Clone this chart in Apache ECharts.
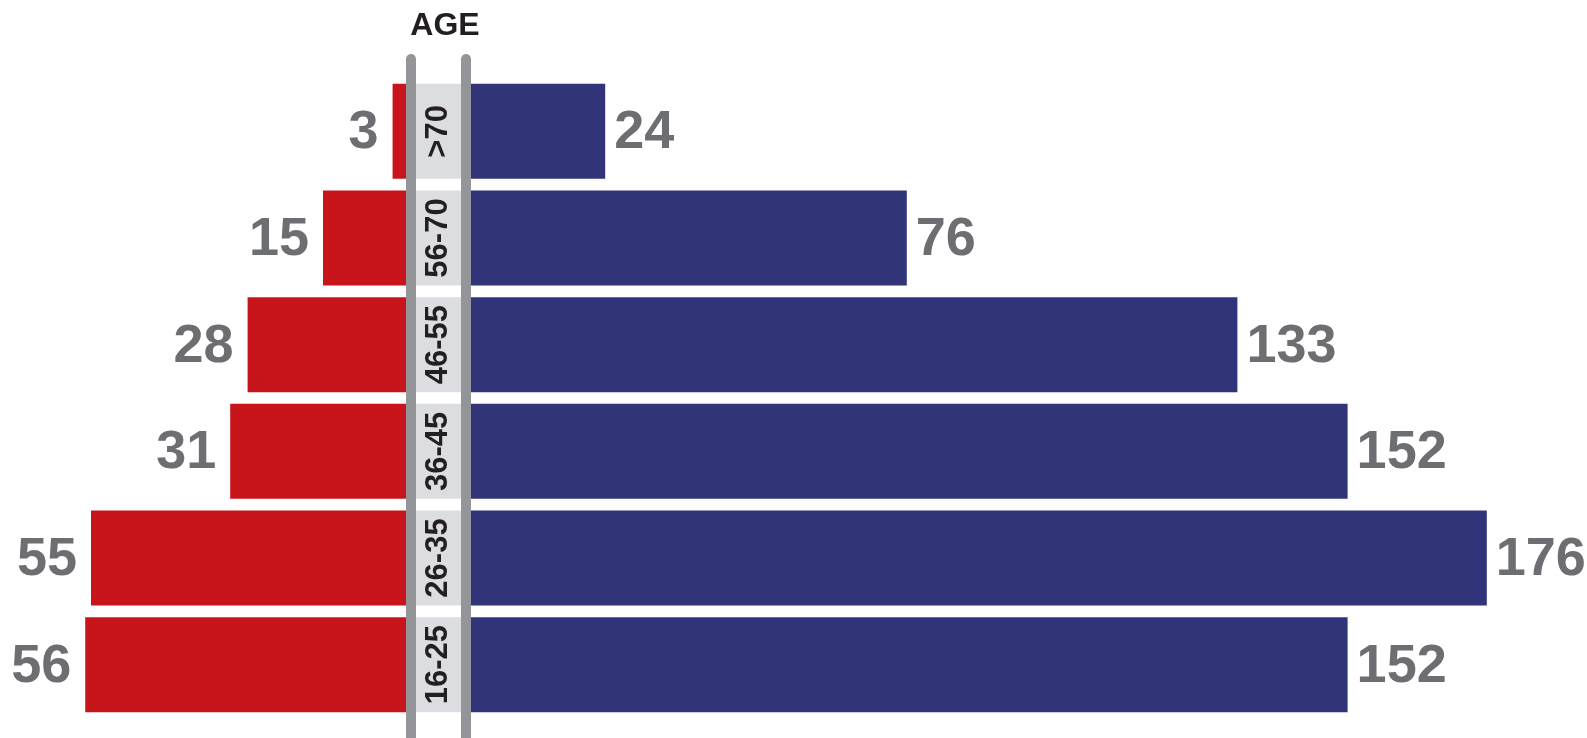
<!DOCTYPE html>
<html>
<head>
  <meta charset="utf-8" />
  <title>Age pyramid</title>
  <style>
    html, body { margin: 0; padding: 0; background: #fff; }
    #chart { width: 1587px; height: 738px; }
  </style>
</head>
<body>
  <div id="chart"></div>
  <script src="https://cdn.jsdelivr.net/npm/echarts@6/dist/echarts.min.js"></script>
  <script>
    // rows, top to bottom
    var ages = ['>70', '56-70', '46-55', '36-45', '26-35', '16-25'];
    var leftValues = [3, 15, 28, 31, 55, 56];
    var rightValues = [24, 76, 133, 152, 176, 152];
    var bandValues = [1, 1, 1, 1, 1, 1];

    var leftMax = 60, rightMax = 180;
    var unit = 5.8;          // px per value
    var splitL = 410, splitR = 466;
    var gridTop = 78, gridBottom = 20;

    var labelFont = 'Liberation Sans, Arial, sans-serif';
    var narrowFont = 'Liberation Sans Narrow, Arial Narrow, Liberation Sans, sans-serif';
    var valueColor = '#6d6e71';
    var darkText = '#231f20';

    var chart = echarts.init(document.getElementById('chart'));

    function catAxis(idx) {
      return {
        type: 'category', gridIndex: idx, data: ages, inverse: true,
        axisLine: { show: false }, axisTick: { show: false }, axisLabel: { show: false }
      };
    }
    function valAxis(idx, max, inv) {
      return {
        type: 'value', gridIndex: idx, min: 0, max: max, inverse: inv,
        axisLine: { show: false }, axisTick: { show: false },
        axisLabel: { show: false }, splitLine: { show: false }
      };
    }

    var option = {
      animation: false,
      title: {
        text: 'AGE', left: (splitL + splitR) / 2 + 2, top: 5, textAlign: 'center',
        textStyle: { fontFamily: labelFont, fontWeight: 'bold', fontSize: 32, color: darkText }
      },
      grid: [
        { left: splitL - leftMax * unit, width: leftMax * unit, top: gridTop, bottom: gridBottom },
        { left: splitR, width: rightMax * unit, top: gridTop, bottom: gridBottom },
        { left: splitL, width: splitR - splitL, top: gridTop, bottom: gridBottom }
      ],
      xAxis: [valAxis(0, leftMax, true), valAxis(1, rightMax, false), valAxis(2, 1, false)],
      yAxis: [catAxis(0), catAxis(1), catAxis(2)],
      series: [
        {
          type: 'bar', xAxisIndex: 0, yAxisIndex: 0, data: leftValues, barWidth: 95,
          itemStyle: { color: '#c8141b' },
          label: {
            show: true, position: 'left', distance: 14, offset: [0, 2],
            fontFamily: labelFont, fontWeight: 'bold', fontSize: 54, color: valueColor
          }
        },
        {
          type: 'bar', xAxisIndex: 1, yAxisIndex: 1, data: rightValues, barWidth: 95,
          itemStyle: { color: '#313479' },
          label: {
            show: true, position: 'right', distance: 9, offset: [0, 2],
            fontFamily: labelFont, fontWeight: 'bold', fontSize: 54, color: valueColor
          }
        },
        {
          type: 'bar', xAxisIndex: 2, yAxisIndex: 2, data: bandValues, barWidth: 95,
          itemStyle: { color: '#dcdde0' },
          label: {
            show: true, position: 'inside', rotate: 90, formatter: '{b}',
            fontFamily: narrowFont, fontWeight: 'bold', fontSize: 31, color: darkText
          }
        }
      ],
      graphic: [splitL + 1, splitR].map(function (x) {
        return {
          type: 'line', z: 100,
          shape: { x1: x, y1: 59, x2: x, y2: 760 },
          style: { stroke: '#939598', lineWidth: 10, lineCap: 'round' }
        };
      })
    };

    chart.setOption(option);
  </script>
</body>
</html>
